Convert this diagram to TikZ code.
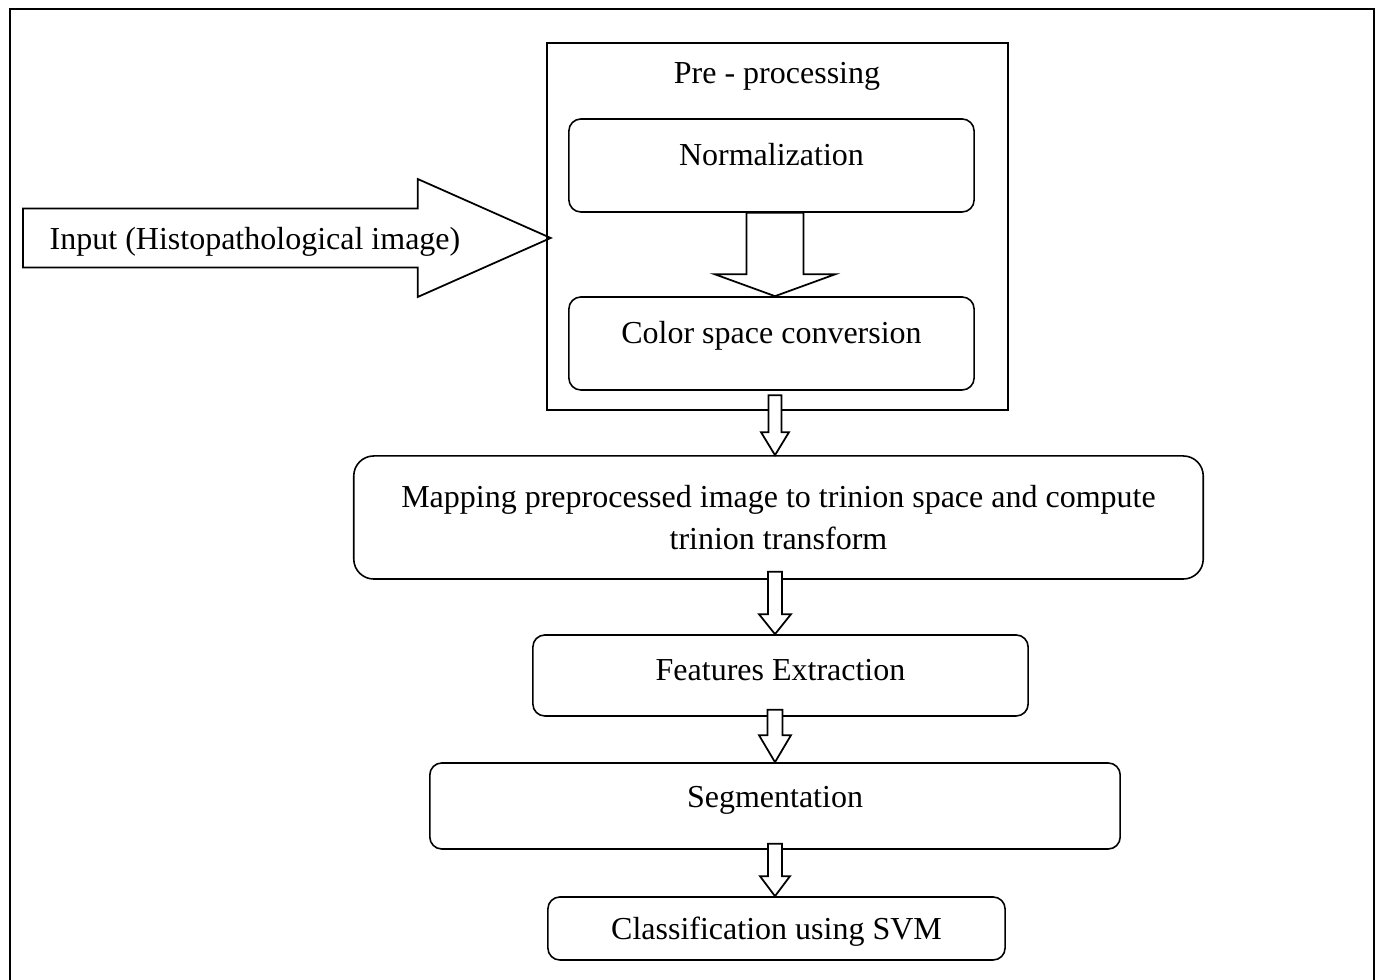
\documentclass[tikz,border=0pt]{standalone}
\usepackage{fontspec}
\setmainfont{Liberation Serif}
\usepackage{tikz}
\usetikzlibrary{calc,positioning}
\newcommand{\diagfont}{\fontsize{9.1pt}{12pt}\selectfont}
\newcommand{\hollowdown}[6]{%
  \draw[hollow] ($(#1.south -| ax)+(-#3,-#6)$) -- ($(#2.north -| ax)+(-#3,-#5)$)
    -- ($(#2.north -| ax)+(-#4,-#5)$) -- (#2.north -| ax)
    -- ($(#2.north -| ax)+(#4,-#5)$) -- ($(#2.north -| ax)+(#3,-#5)$)
    -- ($(#1.south -| ax)+(#3,-#6)$) -- cycle;}
\tikzset{
  frame/.style={draw, line width=0.65pt},
  prebox/.style={rectangle, draw, line width=0.65pt, inner sep=0pt},
  rbox/.style={rectangle, rounded corners=1.2mm, draw, line width=0.45pt, fill=white,
               align=center, font=\diagfont, inner sep=0pt},
  oneline/.style={text height=6.3pt, text depth=#1},
  oneline/.default=2pt,
  hollow/.style={draw, line width=0.5pt, fill=white, line join=miter},
  lbl/.style={font=\diagfont, inner sep=0pt},
}
\begin{document}
\begin{tikzpicture}[x=0.01cm, y=-0.01cm]
  \useasboundingbox (0,0) rectangle (1381,980);
  \draw[frame] (10,9) rectangle (1374,985);
  \coordinate (ax) at (775,0);
  \node[prebox, minimum width=4.61cm, minimum height=3.67cm] (pre) at (777.5,226.5) {};
  \node[lbl, anchor=base] (ttl) at (777,84) {Pre - processing};
  \node[rbox, oneline=6.3pt, minimum width=4.05cm, minimum height=0.93cm] (norm) at (771.5,165.5) {Normalization};
  \node[rbox, oneline=6.3pt, minimum width=4.05cm, minimum height=0.93cm] (csc) at (771.5,343.5) {Color space conversion};
  \node[rbox, rounded corners=2mm, minimum width=8.49cm, minimum height=1.23cm] (map) at (778.5,517.5)
       {Mapping preprocessed image to trinion space and compute\\trinion transform};
  \node[rbox, oneline=3.7pt, minimum width=4.95cm, minimum height=0.81cm] (feat) at (780.5,675.5) {Features Extraction};
  \node[rbox, oneline=5.2pt, minimum width=6.9cm, minimum height=0.86cm] (seg) at (775,806) {Segmentation};
  \node[rbox, oneline=0pt, minimum width=4.57cm, minimum height=0.63cm] (cls) at (776.5,928.5) {Classification using SVM};
  \coordinate (src) at (23,238);
  \coordinate (tip) at ($(pre.west |- src)+(5,0)$);
  \draw[hollow, fill=none] ($(src)+(0,-29.5)$) -- ($(tip)+(-133,-29.5)$) -- ($(tip)+(-133,-59)$) -- (tip)
       -- ($(tip)+(-133,59)$) -- ($(tip)+(-133,29.5)$) -- ($(src)+(0,29.5)$) -- cycle;
  \node[lbl, anchor=base] (in) at (255,250) {Input (Histopathological image)};
  \hollowdown{norm}{csc}{28.5}{60.5}{22}{0}
  \hollowdown{pre}{map}{6.5}{14}{23}{16}
  \hollowdown{map}{feat}{7}{16}{20}{8}
  \hollowdown{feat}{seg}{7.5}{16}{27}{7}
  \hollowdown{seg}{cls}{7}{15}{20}{6}
\end{tikzpicture}
\end{document}
